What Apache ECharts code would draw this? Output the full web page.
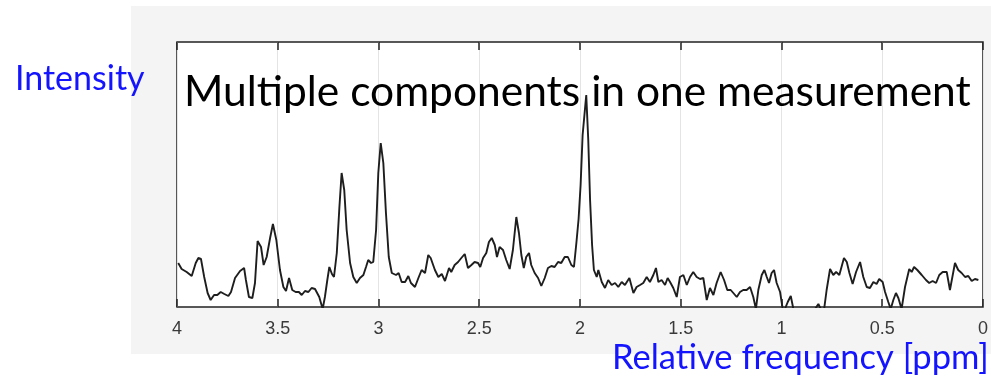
<!DOCTYPE html>
<html>
<head>
<meta charset="utf-8">
<script src="https://cdn.jsdelivr.net/npm/echarts@6/dist/echarts.min.js"></script>
<style>
html,body{margin:0;padding:0;background:#fff;}
#chart{width:991px;height:377px;}
</style>
</head>
<body>
<div id="chart"></div>
<script>
// Chemical shift positions (ppm)
const ppm = [
3.994,3.977,3.952,3.927,3.907,3.894,3.881,3.865,3.848,3.833,3.816,3.800,3.783,3.765,3.745,3.732,3.712,3.687,3.667,3.658,
3.643,3.626,3.613,3.600,3.583,3.570,3.555,3.538,3.524,3.507,3.489,3.472,3.459,3.444,3.428,3.411,3.395,3.381,3.365,3.348,
3.332,3.315,3.294,3.277,3.266,3.254,3.244,3.231,3.221,3.207,3.194,3.183,3.170,3.158,3.141,3.125,3.108,3.092,3.075,3.062,
3.051,3.037,3.026,3.012,3.001,2.989,2.976,2.963,2.949,2.934,2.913,2.900,2.885,2.868,2.852,2.839,2.819,2.802,2.786,2.769,
2.753,2.741,2.720,2.703,2.686,2.670,2.650,2.639,2.622,2.605,2.589,2.572,2.556,2.539,2.523,2.506,2.495,2.481,2.465,2.452,
2.438,2.423,2.412,2.399,2.382,2.366,2.349,2.333,2.316,2.303,2.291,2.279,2.267,2.253,2.242,2.225,2.208,2.192,2.175,2.159,
2.142,2.126,2.109,2.093,2.076,2.060,2.043,2.030,2.018,2.007,1.997,1.987,1.969,1.959,1.950,1.940,1.931,1.917,1.909,1.892,
1.876,1.860,1.843,1.826,1.810,1.793,1.777,1.755,1.735,1.719,1.702,1.686,1.669,1.653,1.636,1.623,1.611,1.595,1.578,1.565,
1.553,1.537,1.520,1.504,1.487,1.470,1.454,1.438,1.421,1.404,1.388,1.371,1.355,1.338,1.322,1.302,1.285,1.269,1.252,1.239,
1.222,1.206,1.190,1.173,1.156,1.140,1.127,1.115,1.098,1.085,1.073,1.062,1.049,1.037,1.024,1.007,0.994,0.983,0.969,0.954,
0.941,0.908,0.859,0.817,0.805,0.789,0.776,0.759,0.743,0.729,0.713,0.690,0.676,0.663,0.647,0.630,0.610,0.594,0.577,0.561,
0.544,0.528,0.515,0.498,0.486,0.470,0.458,0.445,0.432,0.420,0.404,0.387,0.366,0.354,0.342,0.326,0.304,0.283,0.267,0.250,
0.233,0.217,0.200,0.180,0.164,0.139,0.123,0.106,0.089,0.073,0.056,0.040,0.023
];
// Signal intensity (arbitrary units)
const intensity = [
44,38,35,31,44,49,48,30,14,7,12,12,15,13,11,15,29,36,39,27,
10,9,24,66,60,42,50,69,83,67,37,20,16,29,17,15,15,12,16,15,
19,18,10,-2,10,27,40,33,30,54,100,134,117,77,44,30,24,29,32,40,
47,44,45,77,134,164,144,94,50,34,32,34,25,25,31,24,20,29,37,34,
52,49,37,30,33,26,39,35,42,45,49,53,39,42,45,44,40,49,54,65,
69,62,50,60,57,47,38,57,90,74,52,39,50,54,42,34,29,21,29,39,
41,40,45,44,50,50,42,40,64,88,122,172,212,167,107,62,37,30,37,25,
19,27,22,24,20,25,22,29,14,20,22,24,30,25,32,39,25,27,22,29,
25,19,10,30,32,22,30,35,30,28,29,7,19,12,24,35,27,17,17,14,
10,15,17,17,20,10,-2,17,32,37,30,24,34,37,24,15,-2,-2,5,11,
-2,-15,-10,3,-2,-3,17,38,32,35,32,49,45,34,23,35,45,30,20,19,
25,23,28,25,15,5,-2,7,14,9,-2,20,38,35,40,37,32,27,24,26,
24,32,35,35,17,44,37,34,30,31,26,28,27
];
const xTicks = ['4','3.5','3','2.5','2','1.5','1','0.5','0'];
const titleText = 'Multiple components in one measurement';
const yLabel = 'Intensity';
const xLabel = 'Relative frequency [ppm]';

const seriesData = ppm.map((p, i) => [p, intensity[i]]);

const chart = echarts.init(document.getElementById('chart'), null, {renderer: 'canvas'});
const blue = '#1414ff';
const option = {
  animation: false,
  backgroundColor: '#ffffff',
  graphic: [
    {type: 'rect', z: -10, silent: true, shape: {x: 131, y: 6, width: 860, height: 348}, style: {fill: '#f4f4f4'}},
    {type: 'text', z: 100, left: 15, top: 62, style: {text: yLabel, fill: blue, font: '34px Lato'}},
    {type: 'text', z: 100, left: 612, top: 340, style: {text: xLabel, fill: blue, font: '34.5px Lato'}},
    {type: 'text', z: 100, left: 184, top: 71, style: {text: titleText, fill: '#000', font: '42.5px Lato'}}
  ],
  grid: {left: 177, top: 42, width: 806, height: 265, show: true, backgroundColor: '#ffffff', borderColor: '#222', borderWidth: 1.5},
  xAxis: [
    {
      type: 'value', min: 0, max: 4, interval: 0.5, inverse: true, position: 'bottom',
      axisLine: {show: false},
      axisTick: {show: true, inside: true, length: 8, lineStyle: {color: '#222', width: 1.5}},
      axisLabel: {color: '#3a3a3a', fontSize: 18, fontFamily: 'Liberation Sans', margin: 13,
        formatter: v => xTicks[Math.round((4 - v) / 0.5)]},
      splitLine: {show: true, lineStyle: {color: '#e4e4e4', width: 1}}
    },
    {
      type: 'value', min: 0, max: 4, interval: 0.5, inverse: true, position: 'top',
      axisLine: {show: false},
      axisTick: {show: true, inside: true, length: 8, lineStyle: {color: '#222', width: 1.5}},
      axisLabel: {show: false},
      splitLine: {show: false}
    }
  ],
  yAxis: {
    type: 'value', min: 0, max: 265,
    axisLine: {show: false}, axisTick: {show: false}, axisLabel: {show: false}, splitLine: {show: false}
  },
  series: [{
    type: 'line', xAxisIndex: 0, data: seriesData, showSymbol: false, symbol: 'none',
    lineStyle: {color: '#1e1e1e', width: 1.9}, clip: true, z: 5
  }]
};
chart.setOption(option);
</script>
</body>
</html>
